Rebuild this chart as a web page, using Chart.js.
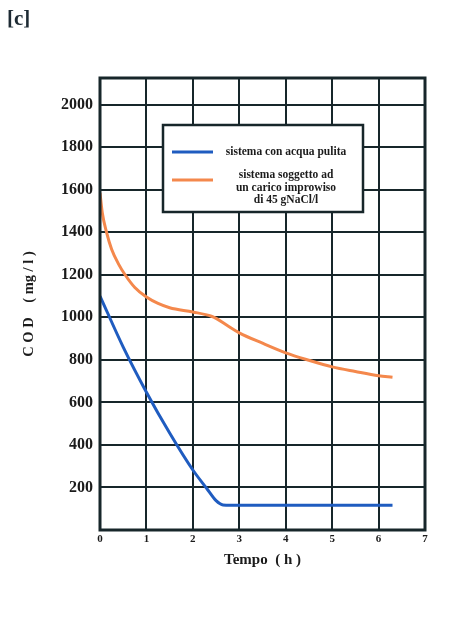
<!DOCTYPE html>
<html>
<head>
<meta charset="utf-8">
<script src="https://cdn.jsdelivr.net/npm/chart.js@4.4.0/dist/chart.umd.min.js"></script>
<style>
  html, body { margin: 0; padding: 0; background: #ffffff; }
  #wrap { position: relative; width: 469px; height: 617px; }
  #tag { position: absolute; left: 7px; top: 6px; font: bold 21px "Liberation Serif", serif; color: #1d2a33; }
</style>
</head>
<body>
<div id="wrap">
  <div id="tag">[c]</div>
  <canvas id="c" width="469" height="617"></canvas>
</div>
<script>
// Time (h) and COD (mg/l) for each run
const timeClean = [0, 0.5, 1, 1.5, 2, 2.3, 2.5, 2.65, 3, 4, 5, 6.3];
const codClean  = [1100, 860, 648, 456, 282, 195, 138, 118, 116, 116, 116, 116];

const timeSalt = [0, 0.05, 0.14, 0.25, 0.4, 0.54, 0.75, 1, 1.25, 1.5, 2, 2.4, 2.5, 2.75, 3, 3.5, 4, 4.5, 5, 5.5, 6, 6.3];
const codSalt  = [1585, 1490, 1400, 1320, 1250, 1200, 1140, 1095, 1065, 1045, 1025, 1005, 995, 960, 927, 878, 833, 798, 767, 745, 725, 718];

const labelClean = 'sistema con acqua pulita';
const labelSalt = ['sistema soggetto ad', 'un carico improwiso', 'di 45 gNaCl/l'];

const xTicks = [0, 1, 2, 3, 4, 5, 6, 7];
const yTicks = [0, 200, 400, 600, 800, 1000, 1200, 1400, 1600, 1800, 2000];

const GRID = '#17262a';
const SERIF = '"Liberation Serif", "Times New Roman", serif';

const toPoints = (xs, ys) => xs.map((x, i) => ({ x: x, y: ys[i] }));

// Frame round the plot area
const framePlugin = {
  id: 'frame',
  afterDatasetsDraw(chart) {
    const { ctx, chartArea: a } = chart;
    ctx.save();
    ctx.strokeStyle = GRID;
    ctx.lineWidth = 3;
    ctx.strokeRect(a.left, a.top, a.right - a.left, a.bottom - a.top);
    ctx.restore();
  }
};

// Boxed legend inside the plot, with multi-line entries
const boxLegend = {
  id: 'boxLegend',
  afterDatasetsDraw(chart) {
    const { ctx } = chart;
    const x0 = 163, y0 = 125, w = 200, h = 87;
    ctx.save();
    ctx.fillStyle = '#ffffff';
    ctx.fillRect(x0, y0, w, h);
    ctx.strokeStyle = GRID;
    ctx.lineWidth = 2.5;
    ctx.strokeRect(x0, y0, w, h);
    ctx.font = 'bold 11.5px ' + SERIF;
    ctx.textAlign = 'center';
    ctx.textBaseline = 'middle';
    const entries = [
      { ds: chart.data.datasets[0], y: 152 },
      { ds: chart.data.datasets[1], y: 180 }
    ];
    entries.forEach(e => {
      const lines = Array.isArray(e.ds.label) ? e.ds.label : [e.ds.label];
      ctx.strokeStyle = e.ds.borderColor;
      ctx.lineWidth = 3;
      ctx.beginPath();
      ctx.moveTo(172, e.y);
      ctx.lineTo(213, e.y);
      ctx.stroke();
      ctx.fillStyle = '#1b1b1b';
      const lh = 12.5;
      const start = e.y - (lines.length - 1) * lh / 2 + (lines.length > 1 ? 8 : 0);
      lines.forEach((t, i) => ctx.fillText(t, 286, start + i * lh));
    });
    ctx.restore();
  }
};

new Chart(document.getElementById('c'), {
  type: 'line',
  data: {
    datasets: [
      {
        label: labelClean,
        data: toPoints(timeClean, codClean),
        borderColor: '#1f5cc0',
        borderWidth: 3,
        pointRadius: 0,
        cubicInterpolationMode: 'monotone',
        fill: false
      },
      {
        label: labelSalt,
        data: toPoints(timeSalt, codSalt),
        borderColor: '#f4884c',
        borderWidth: 3,
        pointRadius: 0,
        cubicInterpolationMode: 'monotone',
        fill: false
      }
    ]
  },
  options: {
    responsive: false,
    animation: false,
    layout: { padding: { left: 0, right: 44, top: 78, bottom: 0 } },
    plugins: { legend: { display: false }, tooltip: { enabled: false } },
    scales: {
      x: {
        type: 'linear',
        min: 0,
        max: 7,
        afterBuildTicks: s => { s.ticks = xTicks.map(v => ({ value: v })); },
        afterFit: s => { s.height = 87; },
        grid: { color: GRID, lineWidth: 2, drawTicks: false },
        border: { display: false },
        ticks: { padding: 3, color: '#1b1b1b', font: { family: SERIF, size: 11, weight: 'bold' } },
        title: {
          display: true,
          text: 'Tempo  ( h )',
          color: '#1b1b1b',
          font: { family: SERIF, size: 15, weight: 'bold' },
          padding: { top: 0, bottom: 48 }
        }
      },
      y: {
        type: 'linear',
        min: 0,
        max: 2125,
        afterBuildTicks: s => { s.ticks = yTicks.map(v => ({ value: v })); },
        afterFit: s => { s.width = 100; },
        grid: { color: GRID, lineWidth: 2, drawTicks: false },
        border: { display: false },
        ticks: {
          padding: 7,
          color: '#1b1b1b',
          font: { family: SERIF, size: 16, weight: 'bold' },
          callback: v => (v === 0 ? '' : String(v))
        },
        title: {
          display: true,
          text: 'C O D    ( mg / l )',
          color: '#1b1b1b',
          font: { family: SERIF, size: 14.5, weight: 'bold' },
          padding: { top: 21, bottom: 0 }
        }
      }
    }
  },
  plugins: [framePlugin, boxLegend]
});
</script>
</body>
</html>
